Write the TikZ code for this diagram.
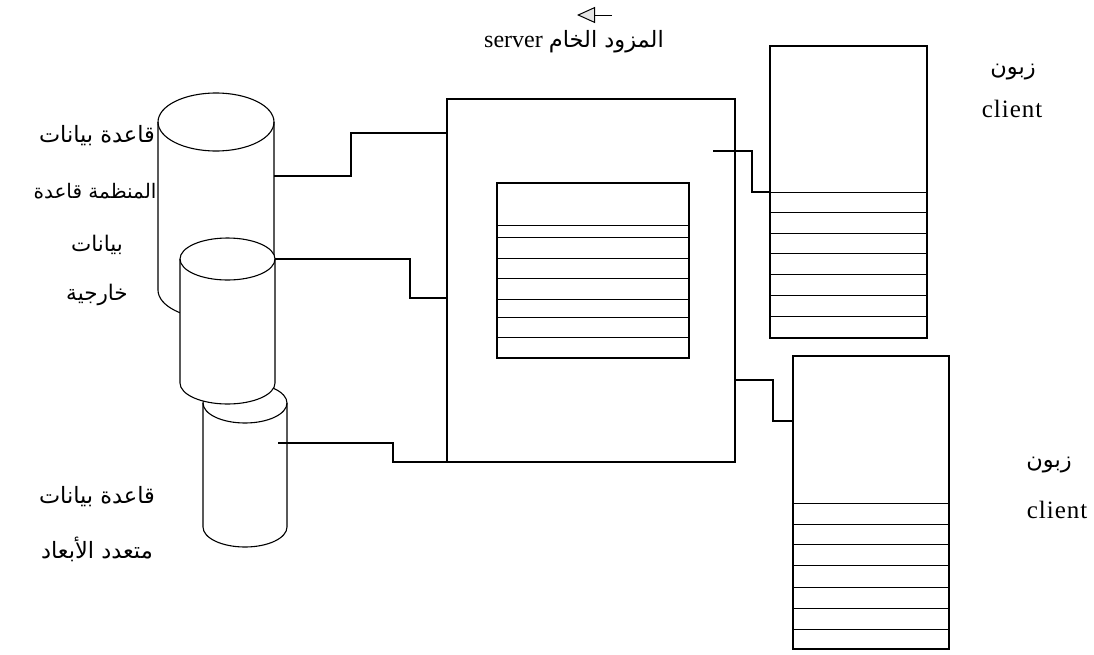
\documentclass[tikz,border=0pt]{standalone}
\usepackage{fontspec}
\setmainfont{Liberation Serif}
\newfontfamily\arabicfont[Script=Arabic]{DejaVu Sans}
\TeXXeTstate=1
\usetikzlibrary{arrows.meta}

\tikzset{
  edge/.style={line width=1.1pt},
  box/.style={draw, line width=1.1pt, inner sep=0pt, outer sep=0pt},
  row/.style={line width=0.9pt},
  artxt/.style={font=\arabicfont\fontsize{22.5}{26}\selectfont, inner sep=0pt},
  artxtmd/.style={font=\arabicfont\fontsize{21.5}{25}\selectfont, inner sep=0pt},
  artxtsm/.style={font=\arabicfont\fontsize{20}{24}\selectfont, inner sep=0pt},
  lattxt/.style={font=\addfontfeatures{LetterSpace=4}\fontsize{25}{29}\selectfont, inner sep=0pt},
}

\begin{document}
\begin{tikzpicture}[x=1pt,y=1pt]
\useasboundingbox (0,0) rectangle (1094,-654);

% ---- database cylinders (lower first, so the upper ones cover it) ----
\draw[edge, fill=white] (203,-403) -- (203,-527)
  arc[start angle=180,end angle=360,x radius=42,y radius=20] -- (287,-403)
  arc[start angle=0,end angle=180,x radius=42,y radius=20] -- cycle;
\draw[edge] (203,-403) arc[start angle=180,end angle=360,x radius=42,y radius=20];

\draw[edge, fill=white] (158,-122) -- (158,-290)
  arc[start angle=180,end angle=360,x radius=58,y radius=29] -- (274,-122)
  arc[start angle=0,end angle=180,x radius=58,y radius=29] -- cycle;
\draw[edge] (158,-122) arc[start angle=180,end angle=360,x radius=58,y radius=29];

\draw[edge, fill=white] (180,-259) -- (180,-383)
  arc[start angle=180,end angle=360,x radius=47.5,y radius=21] -- (275,-259)
  arc[start angle=0,end angle=180,x radius=47.5,y radius=21] -- cycle;
\draw[edge] (180,-259) arc[start angle=180,end angle=360,x radius=47.5,y radius=21];

% connection points on the cylinders
\coordinate (dbA) at (274,-176);
\coordinate (dbB) at (275,-259);
\coordinate (dbC) at (278,-443);

% ---- server ----
\node[box, anchor=north west, minimum width=288pt, minimum height=363pt] (server) at (447,-99) {};
\node[box, anchor=north west, minimum width=192pt, minimum height=175pt] (table) at (497,-183) {};
\foreach \y in {225,237,258,278,299,317,337}
  \draw[row] (table.west |- 0,-\y) -- (table.east |- 0,-\y);
\coordinate (srvOut) at (713,-151);

% ---- clients ----
\node[box, anchor=north west, minimum width=157pt, minimum height=292pt] (client1) at (770,-46) {};
\foreach \y in {192,212,233,253,274,295,316}
  \draw[row] (client1.west |- 0,-\y) -- (client1.east |- 0,-\y);

\node[box, anchor=north west, minimum width=156pt, minimum height=293pt] (client2) at (793,-356) {};
\foreach \y in {503,524,544,565,587,608,629}
  \draw[row] (client2.west |- 0,-\y) -- (client2.east |- 0,-\y);

% ---- connectors ----
\draw[edge] (dbA) -- (351,-176) -- (351,-133) -- (server.west |- 0,-133);
\draw[edge] (dbB) -- (410,-259) -- (410,-298) -- (server.west |- 0,-298);
\draw[edge] (dbC) -- (393,-443) -- (393,-462) -- (server.south west);
\draw[edge] (srvOut) -- (752,-151) -- (752,-192) -- (client1.west |- 0,-192);
\draw[edge] (server.east |- 0,-380) -- (773,-380) -- (773,-421) -- (client2.west |- 0,-421);

% ---- labels ----
\coordinate (arrTail) at (612,-15);
\coordinate (arrHead) at (577,-15);
\draw[line width=1pt, -{Triangle[open,length=18pt,width=16pt,fill=gray!20]}] (arrTail) -- (arrHead);
\node[inner sep=0pt] (srvLabel) at (574,-42)
  {{\fontsize{24}{28}\selectfont server}\hspace{6pt}{\arabicfont\fontsize{22.5}{26}\selectfont\beginR المزود الخام\endR}};

\node[artxt] (dbL1) at (97,-136) {\beginR قاعدة بيانات\endR};
\node[artxtsm] (dbL2) at (95,-191) {\beginR المنظمة قاعدة\endR};
\node[artxtmd] (dbL3) at (97,-245) {\beginR بيانات\endR};
\node[artxtmd] (dbL4) at (97,-295) {\beginR خارجية\endR};

\node[artxt] (mdL1) at (97,-497) {\beginR قاعدة بيانات\endR};
\node[artxt] (mdL2) at (97,-549) {\beginR متعدد الأبعاد\endR};

\node[artxt] (cl1ar) at (1013,-72) {\beginR زبون\endR};
\node[lattxt] (cl1en) at (1012,-109) {client};
\node[artxt] (cl2ar) at (1049,-465) {\beginR زبون\endR};
\node[lattxt] (cl2en) at (1057,-510) {client};
\end{tikzpicture}
\end{document}
